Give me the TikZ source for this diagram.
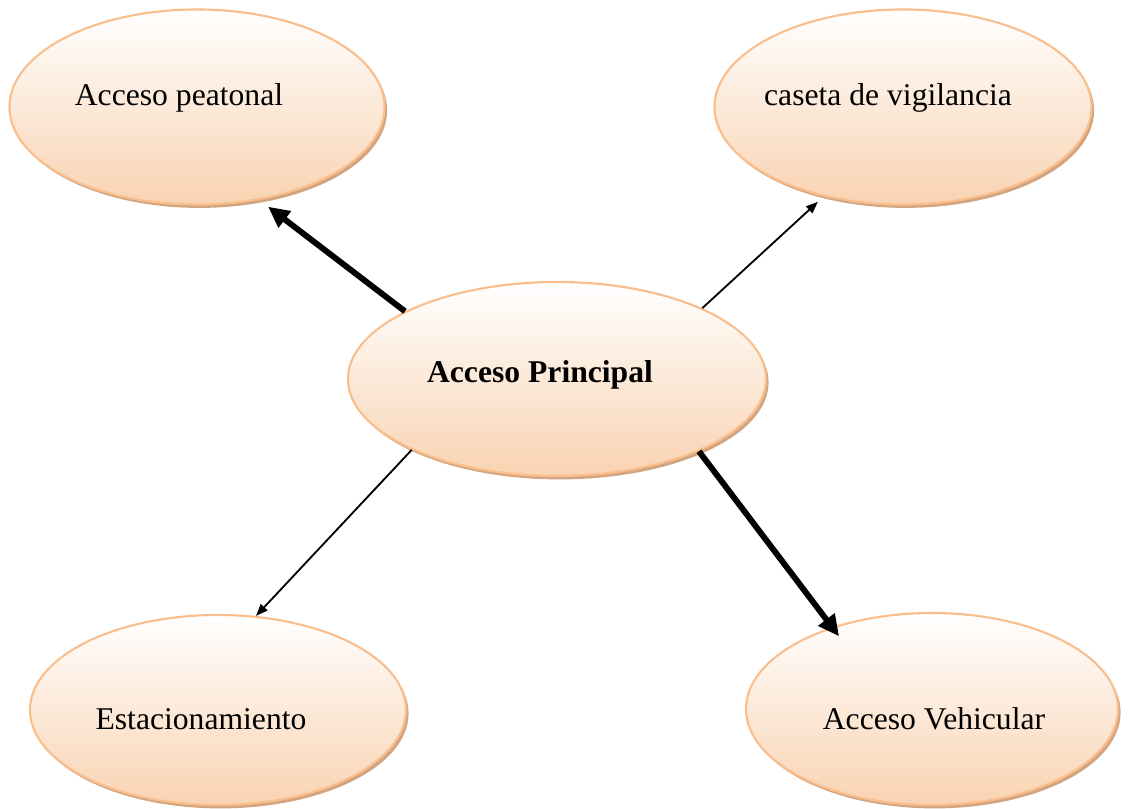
\documentclass[tikz,border=0pt]{standalone}
\usepackage{fontspec}
\setmainfont{Liberation Serif}
\usetikzlibrary{arrows.meta,positioning,shapes.geometric,shadows}
\definecolor{bubbleline}{HTML}{F9BE8C}
\definecolor{bubblelow}{HTML}{F9D3B2}
\definecolor{bubbletop}{HTML}{FFFFFF}
\definecolor{bubbleshade}{HTML}{D2A47F}

\begin{document}
\begin{tikzpicture}[
  x=0.025cm, y=-0.025cm,
  bubble/.style={ellipse, draw=bubbleline, line width=1.5pt,
                 top color=bubbletop, bottom color=bubblelow,
                 drop shadow={shadow xshift=1.8pt, shadow yshift=-2.4pt,
                              fill=bubbleshade, opacity=1}},
  txt/.style={font=\fontsize{22.5}{27}\selectfont, inner sep=0pt},
  thin/.style={-{Triangle[length=8.5pt,width=6.5pt]}, line width=1.3pt},
  fat/.style={-{Triangle[length=15pt,width=14pt]}, line width=4.2pt}
]
\useasboundingbox (0,0) rectangle (1128,808);

\node[bubble, minimum width=9.375cm, minimum height=4.875cm] (peatonal) at (197,107) {};
\node[bubble, minimum width=9.425cm, minimum height=4.875cm] (caseta) at (903,107) {};
\node[bubble, minimum width=10.45cm, minimum height=4.85cm] (principal) at (557,379) {};
\node[bubble, minimum width=9.4cm, minimum height=4.75cm] (estac) at (218,710) {};
\node[bubble, minimum width=9.3cm, minimum height=4.8cm] (vehic) at (932,709) {};

\node[txt] (peatonaltxt) at (179,98) {Acceso peatonal};
\node[txt] (casetatxt) at (888,98) {caseta de vigilancia};
\node[txt, font=\fontsize{22.5}{27}\selectfont\bfseries] (principaltxt) at (540,375) {Acceso Principal};
\node[txt] (estactxt) at (201,719) {Estacionamiento};
\node[txt] (vehictxt) at (934,719) {Acceso Vehicular};

\draw[fat] (principal.156) -- ([shift={(2,8)}]peatonal.-53);
\draw[thin] (principal.26) -- ([shift={(-7,5)}]caseta.-131);
\draw[thin] (principal.206) -- (estac.68);
\draw[fat] (principal.-27) -- ([shift={(8,9)}]vehic.141);
\end{tikzpicture}
\end{document}
